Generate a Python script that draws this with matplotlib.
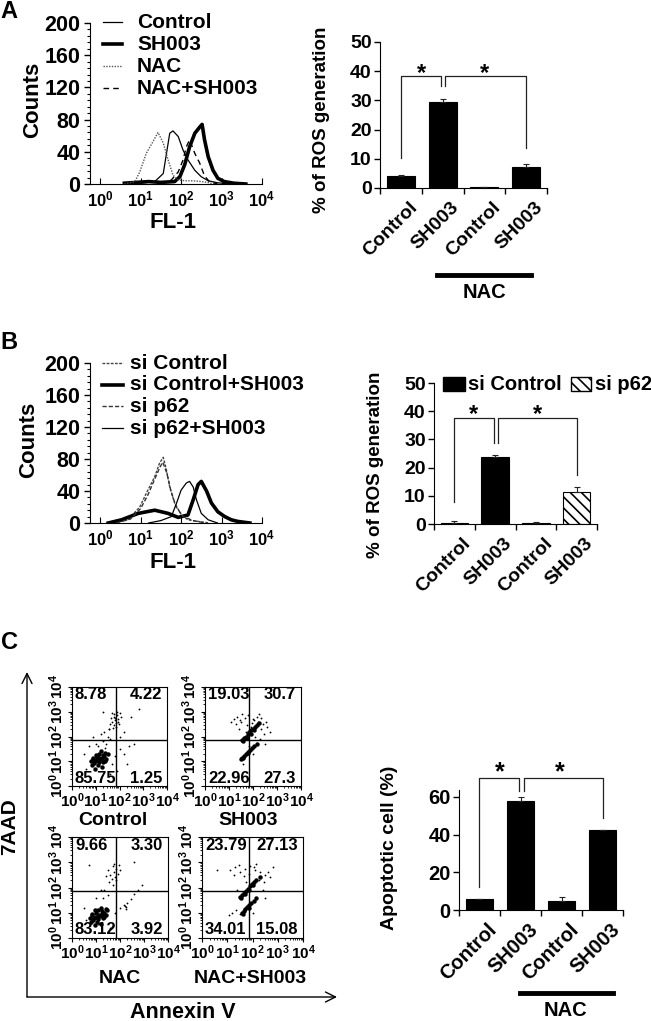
import numpy as np
import matplotlib
matplotlib.use("Agg")
import matplotlib.pyplot as plt
from matplotlib.lines import Line2D
from matplotlib.patches import Rectangle
from matplotlib.transforms import ScaledTranslation
from matplotlib.ticker import AutoMinorLocator, NullFormatter

plt.rcParams['font.family'] = ['Liberation Sans', 'DejaVu Sans']
plt.rcParams['font.weight'] = 'bold'
plt.rcParams['mathtext.fontset'] = 'custom'
plt.rcParams['mathtext.rm'] = 'Liberation Sans:bold'
plt.rcParams['mathtext.bf'] = 'Liberation Sans:bold'
plt.rcParams['mathtext.it'] = 'Liberation Sans:bold'
plt.rcParams['hatch.linewidth'] = 1.2

# ---------------- data ----------------
# panel A histograms (log10 FL-1, counts)
a_ctrl_x = [0.8, 1.35, 1.56, 1.64, 1.72, 1.80, 1.93, 2.05, 2.17, 2.34, 2.5, 2.67, 2.91, 3.2]
a_ctrl_y = [0, 3, 13, 38, 63, 66, 59, 42, 30, 17, 9, 4, 1.5, 0]
a_sh_x = [0.6, 0.9, 1.2, 1.5, 1.84, 1.97, 2.09, 2.21, 2.34, 2.45, 2.52, 2.58, 2.67, 2.79, 2.91, 3.07, 3.3, 3.6]
a_sh_y = [1, 2, 3, 2, 3, 9, 24, 46, 63, 70, 74, 55, 34, 17, 7, 3, 1, 0]
a_nac_x = [0.6, 0.86, 0.98, 1.14, 1.31, 1.43, 1.56, 1.68, 1.80, 1.93, 2.1, 2.3, 2.5, 2.65, 2.8, 3.0]
a_nac_y = [0, 3, 15, 38, 53, 64, 51, 30, 11, 5, 4, 4, 3, 2, 0, 0]
a_nacsh_x = [1.5, 1.76, 1.93, 2.05, 2.13, 2.21, 2.34, 2.46, 2.58, 2.7, 2.9]
a_nacsh_y = [0, 5, 15, 30, 46, 55, 38, 26, 10, 3, 0]
a_legend = ['Control', 'SH003', 'NAC', 'NAC+SH003']

# panel B histograms
b_sictrl_x = [0.3, 0.69, 0.98, 1.14, 1.35, 1.47, 1.56, 1.64, 1.72, 1.84, 2.01, 2.17, 2.42, 2.7]
b_sictrl_y = [0, 4, 20, 37, 58, 75, 82, 66, 45, 25, 10, 4, 2, 0]
b_sictrlsh_x = [0.2, 0.53, 0.94, 1.35, 1.68, 1.93, 2.17, 2.30, 2.42, 2.50, 2.63, 2.75, 2.91, 3.08, 3.24, 3.4, 3.7]
b_sictrlsh_y = [0, 4, 12, 16, 12, 7, 10, 29, 48, 52, 40, 25, 14, 8, 4, 2, 0]
b_sip62_x = [0.4, 0.75, 1.0, 1.18, 1.35, 1.48, 1.55, 1.65, 1.75, 1.88, 2.05, 2.3, 2.6]
b_sip62_y = [0, 5, 18, 35, 55, 70, 76, 62, 40, 20, 8, 3, 0]
b_sip62sh_x = [1.2, 1.5, 1.76, 1.89, 2.0, 2.13, 2.21, 2.30, 2.38, 2.5, 2.67, 2.9]
b_sip62sh_y = [0, 3, 8, 25, 41, 50, 52, 45, 29, 12, 4, 0]
b_legend = ['si Control', 'si Control+SH003', 'si p62', 'si p62+SH003']

hist_ticks = [1, 10, 100, 1000, 10000]
hist_tick_labels = [r'$10^{0}$', r'$10^{1}$', r'$10^{2}$', r'$10^{3}$', r'$10^{4}$']

# bar charts
groups = ['Control', 'SH003', 'Control', 'SH003']
a_ros = [4.1, 29.6, 0.2, 7.3]
a_ros_err = [0.3, 0.9, 0.1, 0.8]
b_ros = [0.3, 23.9, 0.5, 11.2]
b_ros_err = [0.6, 0.7, 0.3, 2.0]
b_series = ['si Control', 'si p62']
c_apo = [5.7, 57.8, 4.9, 42.5]
c_apo_err = [0.3, 2.2, 2.1, 0.0]

# significance brackets: (x left, x right, left foot, top, right foot)
a_brackets = [(0, 0.95, 10.3, 38.4, 35.0), (1.05, 3, 35.0, 38.4, 13.7)]
a_stars = [0.5, 2.0]
b_brackets = [(0, 0.98, 7.8, 37.6, 28.7), (1.07, 3, 28.7, 37.6, 17.4)]
b_stars = [0.48, 2.03]
c_brackets = [(0, 0.96, 12.2, 70.0, 63.3), (1.09, 3, 63.3, 70.0, 49.0)]
c_stars = [0.5, 1.96]

# panel C flow dot plots (log10 Annexin V, log10 7AAD)
ctrl_dense_x = [1.15, 0.95, 1.30, 1.00, 1.30, 0.85, 1.40, 1.10, 1.20, 0.90, 1.45, 0.80, 1.05, 1.25, 1.35, 0.98, 1.15, 1.50,
                1.05, 1.22, 0.92, 1.38, 1.12, 0.88, 1.28]
ctrl_dense_y = [1.12, 1.00, 1.25, 1.25, 0.98, 0.85, 1.35, 0.85, 1.40, 1.15, 1.10, 1.00, 1.05, 0.75, 1.20, 0.70, 1.30, 1.30,
                1.18, 1.08, 0.92, 1.02, 0.95, 1.08, 1.15]
ctrl_sparse_x = [1.81, 1.70, 1.90, 1.75, 1.95, 1.85, 1.65, 2.00, 1.78, 1.88, 1.60, 1.72, 1.92, 2.05, 1.82, 1.68, 1.55, 1.98,
                 1.76, 1.86, 1.45, 1.50, 1.35, 1.60, 1.40, 1.20, 1.55, 1.30, 2.00, 2.20, 2.40, 2.60, 2.30, 1.90, 1.70,
                 0.60, 0.50, 0.70, 1.00, 2.50, 2.80, 1.30, 0.90, 2.20, 1.60, 1.80, 2.00, 1.10]
ctrl_sparse_y = [2.73, 2.60, 2.85, 2.90, 2.70, 2.55, 2.75, 2.95, 2.45, 3.00, 2.50, 2.35, 2.60, 2.80, 2.65, 2.95, 2.30, 2.50,
                 2.80, 2.40, 1.70, 2.00, 2.20, 1.90, 1.55, 2.10, 2.30, 1.80, 1.50, 1.30, 1.60, 1.70, 0.90, 0.60, 0.90,
                 0.70, 1.30, 1.60, 1.70, 2.80, 3.10, 3.00, 2.00, 2.20, 0.50, 1.20, 2.00, 1.60]
sh_dense_x = [1.55, 1.62, 1.70, 1.78, 1.85, 1.92, 2.00, 2.08, 2.15, 2.25, 1.60, 1.75, 1.90, 2.05,
              1.48, 1.55, 1.62, 1.70, 1.78, 1.86, 1.95, 2.05, 2.15, 1.60, 1.80]
sh_dense_y = [1.85, 1.92, 2.00, 2.10, 2.18, 2.25, 2.32, 2.40, 2.48, 2.55, 1.80, 1.95, 2.12, 2.28,
              1.08, 1.15, 1.22, 1.30, 1.38, 1.45, 1.52, 1.60, 1.70, 1.12, 1.33]
sh_sparse_x = [1.20, 1.35, 1.50, 1.65, 1.80, 2.00, 2.20, 2.40, 2.60, 1.30, 1.55, 1.75, 1.95, 2.15, 2.35, 2.55, 1.40, 1.70,
               2.10, 2.45, 1.10, 2.70, 2.30, 1.85, 2.50, 2.00, 1.60, 2.25, 1.45, 1.90, 2.05, 2.35]
sh_sparse_y = [2.70, 2.80, 2.60, 2.75, 2.85, 2.70, 2.60, 2.50, 2.40, 2.50, 2.90, 2.45, 2.55, 2.80, 2.30, 2.60, 2.30, 2.20,
               2.00, 2.10, 2.60, 2.20, 1.90, 1.60, 1.70, 1.30, 0.90, 2.90, 2.65, 2.40, 2.65, 2.75]
nac_dense_x = [1.11, 0.90, 1.25, 0.95, 1.30, 0.80, 1.40, 1.05, 1.20, 0.85, 1.40, 0.75, 1.00, 1.20, 1.35, 0.95, 1.10, 1.45,
               1.02, 1.18, 0.88, 1.32, 1.08, 0.82, 1.25]
nac_dense_y = [0.91, 0.80, 1.05, 1.10, 0.78, 0.65, 1.15, 0.65, 1.20, 0.95, 0.90, 0.80, 0.85, 0.55, 1.00, 0.50, 1.10, 1.10,
               0.98, 0.88, 0.72, 0.85, 0.75, 0.90, 0.95]
nac_sparse_x = [1.74, 1.60, 1.85, 1.70, 1.90, 1.80, 1.50, 1.95, 1.65, 1.75, 1.40, 2.00, 1.55, 1.85, 1.70, 1.35,
                2.02, 2.15, 2.23, 2.30, 2.45, 2.60, 2.75, 2.90, 2.23, 2.20, 1.50, 1.30, 1.20, 0.60, 0.50, 1.00,
                2.60, 1.80, 0.70, 1.60]
nac_sparse_y = [2.63, 2.50, 2.75, 2.85, 2.55, 2.40, 2.70, 2.90, 2.35, 2.95, 2.45, 2.70, 2.20, 2.30, 2.10, 1.90,
                1.20, 1.30, 1.22, 1.40, 1.55, 1.75, 1.90, 2.10, 1.15, 1.28, 1.70, 1.60, 1.90, 0.70, 1.20, 1.60,
                3.00, 1.00, 2.90, 0.40]
nacsh_dense_x = [1.50, 1.58, 1.66, 1.74, 1.82, 1.90, 1.98, 2.06, 2.15, 2.28, 1.55, 1.70, 1.86, 2.02,
                 1.57, 1.65, 1.72, 1.80, 1.88, 1.96, 2.05, 2.15, 1.62, 1.85]
nacsh_dense_y = [1.64, 1.72, 1.80, 1.88, 1.96, 2.04, 2.12, 2.20, 2.30, 2.40, 1.60, 1.76, 1.92, 2.08,
                 1.00, 1.08, 1.16, 1.24, 1.32, 1.40, 1.48, 1.58, 0.95, 1.20]
nacsh_sparse_x = [1.10, 1.30, 1.50, 1.70, 1.90, 2.10, 2.30, 2.50, 2.70, 1.25, 1.45, 1.65, 1.85, 2.05, 2.25, 2.45, 2.60,
                  1.05, 1.20, 1.35, 1.50, 2.80, 2.40, 2.00, 1.40, 0.60, 2.50, 1.75, 2.15]
nacsh_sparse_y = [2.70, 2.80, 2.60, 2.75, 2.85, 2.70, 2.60, 2.50, 2.40, 2.50, 2.90, 2.45, 2.55, 2.80, 2.30, 2.20, 2.60,
                  0.90, 1.00, 1.10, 0.95, 2.80, 1.90, 1.00, 1.90, 2.70, 1.60, 2.20, 2.95]
gate = 1.85
c_titles = ['Control', 'SH003', 'NAC', 'NAC+SH003']
c_quads = [['8.78', '4.22', '85.75', '1.25'], ['19.03', '30.7', '22.96', '27.3'],
           ['9.66', '3.30', '83.12', '3.92'], ['23.79', '27.13', '34.01', '15.08']]

# ---------------- figure ----------------
W, H = 651, 1021
fig = plt.figure(figsize=(W / 100, H / 100), dpi=100)
# overlay in pixel coordinates for labels and decorations
bg = fig.add_axes([0, 0, 1, 1])
bg.set_xlim(0, W)
bg.set_ylim(H, 0)
bg.axis('off')
bg.set_zorder(10)
bg.patch.set_visible(False)


def box(l, t, r, b):
    return [l / W, 1 - b / H, (r - l) / W, (b - t) / H]


def hist_panel(l, t, r, b, curves, styles):
    ax = fig.add_axes(box(l, t, r, b))
    ax.patch.set_visible(False)
    for (xs, ys), st in zip(curves, styles):
        ax.plot(10.0 ** np.asarray(xs), ys, **st)
    ax.set_xscale('log')
    ax.set_xlim(10 ** -0.25, 10 ** 4)
    ax.set_ylim(0, 200)
    ax.set_yticks([0, 40, 80, 120, 160, 200])
    ax.yaxis.set_minor_locator(AutoMinorLocator(5))
    ax.set_xticks(hist_ticks)
    ax.set_xticklabels(hist_tick_labels)
    ax.xaxis.set_minor_formatter(NullFormatter())
    for s in ['top', 'right']:
        ax.spines[s].set_visible(False)
    ax.tick_params(axis='y', which='major', length=4, width=1, labelsize=15.5, pad=3)
    ax.tick_params(axis='y', which='minor', length=2, width=0.8)
    ax.tick_params(axis='x', which='major', direction='in', length=4, labelsize=12, pad=4)
    ax.tick_params(axis='x', which='minor', direction='in', length=2)
    return ax


def bar_panel(l, t, r, b, vals, errs, colors, hatches, ymax, yticks, fs, brackets, stars, star_y, star_fs):
    ax = fig.add_axes(box(l, t, r, b))
    ax.patch.set_visible(False)
    x = np.arange(len(vals))
    bars = ax.bar(x, vals, width=0.67, color=colors, edgecolor='k', linewidth=0.8)
    for p, h in zip(bars, hatches):
        p.set_hatch(h)
    ax.errorbar(x, vals, yerr=[np.zeros(len(errs)), errs], fmt='none', ecolor='#222222',
                elinewidth=0.8, capsize=2, capthick=0.8)
    ax.set_xlim(-0.5, 3.5)
    ax.set_ylim(0, ymax)
    ax.set_yticks(yticks)
    ax.set_xticks(x)
    ax.set_xticklabels([])
    ax.set_xticks(np.arange(-0.5, 4, 1), minor=True)
    ax.tick_params(axis='x', which='major', length=0)
    ax.tick_params(axis='x', which='minor', length=4, width=1)
    ax.tick_params(axis='y', length=4, width=1, labelsize=fs, pad=2)
    for s in ['top', 'right']:
        ax.spines[s].set_visible(False)
    for x0, x1, yl, yt, yr in brackets:
        ax.plot([x0, x0, x1, x1], [yl, yt, yt, yr], color='#222222', lw=0.9, clip_on=False)
    for sx in stars:
        ax.text(sx, star_y, '*', ha='center', va='baseline', fontsize=star_fs, clip_on=False)
    off = ScaledTranslation(0.14, -0.17, fig.dpi_scale_trans)
    for i, g in enumerate(groups):
        ax.text(i, 0, g, transform=ax.get_xaxis_transform() + off, rotation=45, ha='right',
                va='center', rotation_mode='anchor', fontsize=fs)
    return ax


# ---- panel A ----
a_styles = [dict(color='k', lw=0.9), dict(color='k', lw=2.6),
            dict(color='#555555', lw=1.0, ls=(0, (1, 1))), dict(color='k', lw=1.0, ls=(0, (4, 3)))]
hist_panel(90, 23, 262, 184,
           [(a_ctrl_x, a_ctrl_y), (a_sh_x, a_sh_y), (a_nac_x, a_nac_y), (a_nacsh_x, a_nacsh_y)], a_styles)
for i, (lab, st) in enumerate(zip(a_legend, a_styles)):
    yy = 22 + i * 22
    bg.add_line(Line2D([103, 122], [yy, yy], **st))
    bg.text(137, yy, lab, va='center', ha='left', fontsize=15)
bg.text(9, 12, 'A', fontsize=17, ha='center', va='center')
bg.text(33, 100, 'Counts', rotation=90, fontsize=16, ha='center', va='center')
bg.text(173, 222, 'FL-1', fontsize=16, ha='center', va='center')

bar_panel(380, 42, 547, 188, a_ros, a_ros_err, ['k'] * 4, [''] * 4, 50, [0, 10, 20, 30, 40, 50], 14,
          a_brackets, a_stars, 37.0, 17)
bg.text(322, 120, '% of ROS generation', rotation=90, fontsize=13.5, ha='center', va='center')
bg.add_line(Line2D([437, 531], [275, 275], color='k', lw=3.5))
bg.text(484, 292, 'NAC', fontsize=14.5, ha='center', va='center')

# ---- panel B ----
b_styles = [dict(color='#444444', lw=1.0, ls=(0, (2, 1))), dict(color='k', lw=2.6),
            dict(color='#333333', lw=1.0, ls=(0, (3, 1.5))), dict(color='k', lw=0.9)]
hist_panel(90, 363, 262, 523,
           [(b_sictrl_x, b_sictrl_y), (b_sictrlsh_x, b_sictrlsh_y), (b_sip62_x, b_sip62_y),
            (b_sip62sh_x, b_sip62sh_y)], b_styles)
for i, (lab, st) in enumerate(zip(b_legend, b_styles)):
    yy = 363 + i * 21.7
    bg.add_line(Line2D([102, 123], [yy, yy], **st))
    bg.text(130, yy, lab, va='center', ha='left', fontsize=15)
bg.text(9, 342, 'B', fontsize=17, ha='center', va='center')
bg.text(29, 440, 'Counts', rotation=90, fontsize=16, ha='center', va='center')
bg.text(173, 562, 'FL-1', fontsize=16, ha='center', va='center')

b_hatch = '\\\\\\'
bar_panel(434, 383, 597, 524, b_ros, b_ros_err, ['k', 'k', 'white', 'white'], ['', '', b_hatch, b_hatch],
          50, [0, 10, 20, 30, 40, 50], 14, b_brackets, b_stars, 36.5, 17)
bg.text(375, 465, '% of ROS generation', rotation=90, fontsize=13.5, ha='center', va='center')
bg.add_patch(Rectangle((443, 377), 22, 14, facecolor='k', edgecolor='k'))
bg.text(468, 384, b_series[0], fontsize=14.5, ha='left', va='center')
bg.add_patch(Rectangle((571, 377), 20, 14, facecolor='white', edgecolor='k', hatch=b_hatch))
bg.text(595, 384, b_series[1], fontsize=14.5, ha='left', va='center')

# ---- panel C ----
bg.text(9, 642, 'C', fontsize=17, ha='center', va='center')
scatter_boxes = [(72, 687, 167, 786), (205, 687, 301, 786), (72, 837, 168, 938), (202, 837, 303, 938)]
scatter_data = [(ctrl_dense_x, ctrl_dense_y, ctrl_sparse_x, ctrl_sparse_y),
                (sh_dense_x, sh_dense_y, sh_sparse_x, sh_sparse_y),
                (nac_dense_x, nac_dense_y, nac_sparse_x, nac_sparse_y),
                (nacsh_dense_x, nacsh_dense_y, nacsh_sparse_x, nacsh_sparse_y)]
title_pos = [(113, 820), (248, 820), (120, 978), (250, 978)]
dec_minor = np.concatenate([k + np.log10(np.arange(2, 10)) for k in range(4)])
for bx, (dx, dy, sx, sy), quads, title, tp in zip(scatter_boxes, scatter_data, c_quads, c_titles, title_pos):
    ax = fig.add_axes(box(*bx))
    ax.plot(sx, sy, 'o', ms=1.3, color='k', mec='none')
    ax.plot(dx, dy, 'o', ms=3.2, color='k', mec='none')
    ax.axvline(gate, color='k', lw=1)
    ax.axhline(gate, color='k', lw=1)
    ax.set_xlim(0, 4)
    ax.set_ylim(0, 4)
    ax.set_xticks(range(5))
    ax.set_yticks(range(5))
    ax.set_xticklabels(hist_tick_labels)
    ax.set_yticklabels(hist_tick_labels, rotation=90, va='center')
    ax.set_xticks(dec_minor, minor=True)
    ax.set_yticks(dec_minor, minor=True)
    ax.tick_params(which='major', length=3, width=0.8, labelsize=11, pad=1)
    ax.tick_params(which='minor', length=1.5, width=0.6)
    kw = dict(transform=ax.transAxes, fontsize=12, va='center')
    ax.text(0.03, 0.92, quads[0], ha='left', **kw)
    ax.text(0.95, 0.92, quads[1], ha='right', **kw)
    ax.text(0.03, 0.08, quads[2], ha='left', **kw)
    ax.text(0.95, 0.08, quads[3], ha='right', **kw)
    bg.text(tp[0], tp[1], title, fontsize=14, ha='center', va='center')

bg.annotate('', xy=(27, 672), xytext=(27, 997),
            arrowprops=dict(arrowstyle='->', lw=1.0, color='k', mutation_scale=18, shrinkA=0, shrinkB=0))
bg.annotate('', xy=(337, 997), xytext=(27, 997),
            arrowprops=dict(arrowstyle='->', lw=1.0, color='k', mutation_scale=18, shrinkA=0, shrinkB=0))
bg.text(10, 827, '7AAD', rotation=90, fontsize=15, ha='center', va='center')
bg.text(183, 1012, 'Annexin V', fontsize=15.5, ha='center', va='center')

bar_panel(459, 790, 623, 910, c_apo, c_apo_err, ['k'] * 4, [''] * 4, 63.7, [0, 20, 40, 60], 14.5,
          c_brackets, c_stars, 69.6, 18)
bg.text(390, 848, 'Apoptotic cell (%)', rotation=90, fontsize=14, ha='center', va='center')
bg.add_line(Line2D([520, 613], [993, 993], color='k', lw=3.5))
bg.text(565, 1010, 'NAC', fontsize=14.5, ha='center', va='center')

fig.savefig('out.png', dpi=100)
